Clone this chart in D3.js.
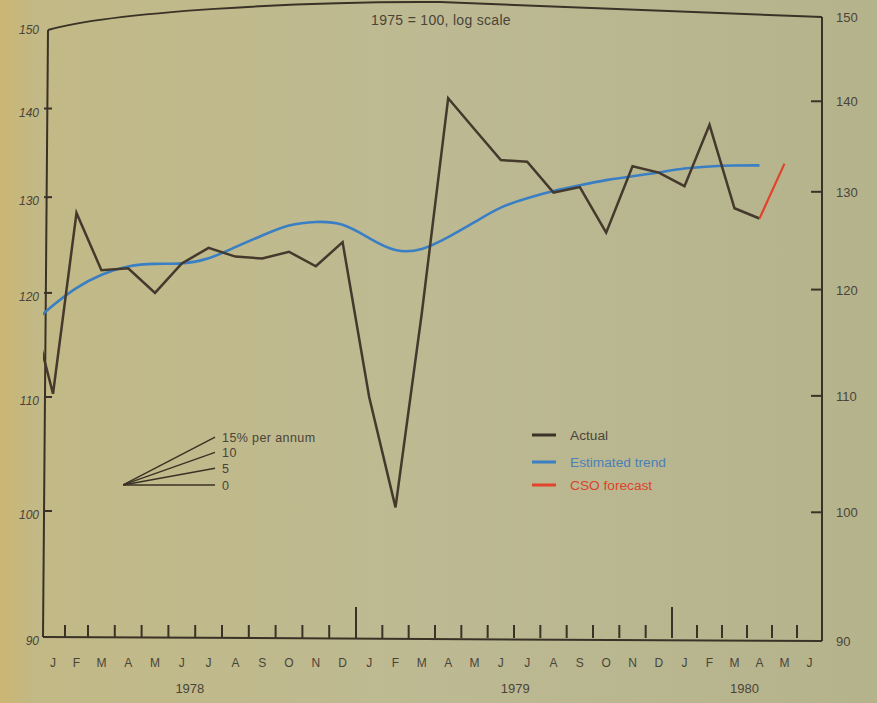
<!DOCTYPE html>
<html>
<head>
<meta charset="utf-8">
<script src="https://cdn.jsdelivr.net/npm/d3@7"></script>
<style>
body { margin: 0; background: #bcb992; }
svg { display: block; font-family: "Liberation Sans", Arial, sans-serif; }
</style>
</head>
<body>
<div id="chart"></div>
<script>
// monthly index, 1975=100, from Dec 1977 (first value is off the left edge)
var actualValues = [119.3, 110.3, 128.3, 122.3, 122.5, 120.0, 123.0, 124.6, 123.7, 123.5, 124.2, 122.7, 125.2,
  110.0, 100.3, 118.0, 141.2, 137.6, 134.1, 133.9, 130.5, 131.1, 126.2, 133.4, 132.7,
  131.2, 138.1, 128.8, 127.7]
var trendValues = [116.7, 118.8, 120.6, 121.9, 122.8, 123.0, 122.9, 123.4, 124.7, 125.9, 127.1, 127.4, 127.3,
  125.6, 124.1, 124.3, 125.7, 127.3, 129.0, 129.9, 130.7, 131.3, 131.9, 132.3, 132.7,
  133.2, 133.4, 133.5, 133.5]
var forecastValues = [127.7, 133.7]   // Apr 1980 -> May 1980
var firstMonth = -1        // Dec 1977
var forecastStart = 27     // Apr 1980

var monthLabels = ["J","F","M","A","M","J","J","A","S","O","N","D",
  "J","F","M","A","M","J","J","A","S","O","N","D",
  "J","F","M","A","M","J"]
var years = ["1978", "1979", "1980"]
var yearPos = [5.8, 18.05, 26.9]
var yTicks = [90, 100, 110, 120, 130, 140, 150]
var fanRates = [0, 5, 10, 15]
var fanLabels = ["0", "5", "10", "15% per annum"]

var width = 877
var height = 703
var ink = "#3a3226"

// month axis is slightly compressed at the start in the print
var x = d3.scaleLinear().domain([0, 1, 2, 12, 24, 30]).range([41, 65, 88, 356, 672, 822])
var y = d3.scaleLog().domain([90, 150]).range([637, 26])
var yR = d3.scaleLog().domain([90, 150]).range([641, 17])

var svg = d3.select("#chart").append("svg")
  .attr("width", width)
  .attr("height", height)

var defs = svg.append("defs")
var grad = defs.append("linearGradient").attr("id", "paper")
grad.append("stop").attr("offset", "0%").attr("stop-color", "#cbb672")
grad.append("stop").attr("offset", "4%").attr("stop-color", "#c2b986")
grad.append("stop").attr("offset", "50%").attr("stop-color", "#bdba93")
grad.append("stop").attr("offset", "100%").attr("stop-color", "#b5b38c")

svg.append("rect").attr("width", width).attr("height", height).attr("fill", "url(#paper)")

var left = 43
defs.append("clipPath").attr("id", "plot")
  .append("rect")
  .attr("x", left).attr("y", 0)
  .attr("width", x(30) - left).attr("height", y(90))

// frame: top edge is bowed in the print
svg.append("path")
  .attr("d", "M" + (left + 5) + "," + (y(150) + 4) + " C 110,12 300,1 440,2 L " + x(30) + "," + yR(150))
  .attr("fill", "none").attr("stroke", ink).attr("stroke-width", 2)

svg.append("line")
  .attr("x1", left + 5).attr("y1", y(150) + 4).attr("x2", left).attr("y2", y(90))
  .attr("stroke", ink).attr("stroke-width", 2)
svg.append("line")
  .attr("x1", x(30)).attr("y1", yR(150)).attr("x2", x(30)).attr("y2", yR(90))
  .attr("stroke", ink).attr("stroke-width", 2)
svg.append("line")
  .attr("x1", left).attr("y1", y(90)).attr("x2", x(30)).attr("y2", yR(90))
  .attr("stroke", ink).attr("stroke-width", 2)

// y ticks, both sides, pointing inward
var yt = yTicks.filter(function(d){ return d > 90 && d < 150 })
svg.selectAll(".ltick").data(yt).enter().append("line")
  .attr("x1", left + 1).attr("x2", left + 9)
  .attr("y1", function(d){ return y(d) }).attr("y2", function(d){ return y(d) })
  .attr("stroke", ink).attr("stroke-width", 2)
svg.selectAll(".rtick").data(yt).enter().append("line")
  .attr("x1", x(30) - 11).attr("x2", x(30))
  .attr("y1", function(d){ return yR(d) }).attr("y2", function(d){ return yR(d) })
  .attr("stroke", ink).attr("stroke-width", 2)

svg.selectAll(".llab").data(yTicks).enter().append("text")
  .attr("x", 39).attr("y", function(d){ return y(d) + 8 })
  .attr("text-anchor", "end")
  .attr("font-size", 12).attr("font-style", "italic")
  .attr("fill", "#4a4438")
  .text(function(d){ return d })
svg.selectAll(".rlab").data(yTicks).enter().append("text")
  .attr("x", 836).attr("y", function(d){ return yR(d) + 5 })
  .attr("font-size", 13)
  .attr("fill", "#4a4438")
  .text(function(d){ return d })

// month ticks
var mticks = d3.range(1, 30)
svg.selectAll(".mtick").data(mticks).enter().append("line")
  .attr("x1", function(d){ return x(d) }).attr("x2", function(d){ return x(d) })
  .attr("y1", y(90) + 1)
  .attr("y2", function(d){ return d % 12 == 0 ? y(90) - 30 : y(90) - 12 })
  .attr("stroke", ink).attr("stroke-width", 2)

svg.selectAll(".mlab").data(monthLabels).enter().append("text")
  .attr("x", function(d, i){ return x(i + 0.5) })
  .attr("y", 667)
  .attr("text-anchor", "middle")
  .attr("font-size", 12)
  .attr("fill", "#4a4438")
  .text(function(d){ return d })

svg.selectAll(".ylab").data(years).enter().append("text")
  .attr("x", function(d, i){ return x(yearPos[i]) })
  .attr("y", 693)
  .attr("text-anchor", "middle")
  .attr("font-size", 13)
  .attr("fill", "#4a4438")
  .text(function(d){ return d })

svg.append("text")
  .attr("x", 441).attr("y", 25)
  .attr("text-anchor", "middle")
  .attr("font-size", 14).attr("letter-spacing", 0.3)
  .attr("fill", "#4a4438")
  .text("1975 = 100, log scale")

// series
var plot = svg.append("g").attr("clip-path", "url(#plot)")

var trendLine = d3.line()
  .x(function(d, i){ return x(firstMonth + i + 0.5) })
  .y(function(d){ return y(d) })
  .curve(d3.curveBasis)

plot.append("path")
  .datum(trendValues)
  .attr("d", trendLine)
  .attr("fill", "none").attr("stroke", "#3a7fc4").attr("stroke-width", 2.6)

var actualLine = d3.line()
  .x(function(d, i){ return x(firstMonth + i + 0.5) })
  .y(function(d){ return y(d) })

plot.append("path")
  .datum(actualValues)
  .attr("d", actualLine)
  .attr("fill", "none").attr("stroke", "#44392c").attr("stroke-width", 2.5)

var fcLine = d3.line()
  .x(function(d, i){ return x(forecastStart + i + 0.5) })
  .y(function(d){ return y(d) })

plot.append("path")
  .datum(forecastValues)
  .attr("d", fcLine)
  .attr("fill", "none").attr("stroke", "#e2432c").attr("stroke-width", 2.2)

// growth-rate fan
var fanBase = 102.2
var fanFrom = 3.31
var fanSpan = 3.43
var fanEnd = function(d){ return y(fanBase * Math.pow(1 + d / 100, fanSpan / 12)) }
var fan = svg.append("g")
fan.selectAll("line").data(fanRates).enter().append("line")
  .attr("x1", x(fanFrom)).attr("y1", y(fanBase))
  .attr("x2", x(fanFrom + fanSpan))
  .attr("y2", fanEnd)
  .attr("stroke", "#3a3226").attr("stroke-width", 1.4)
fan.selectAll("text").data(fanRates).enter().append("text")
  .attr("x", x(fanFrom + fanSpan) + 7)
  .attr("y", function(d){ return fanEnd(d) + 5 })
  .attr("font-size", 12.5).attr("letter-spacing", 0.4)
  .attr("fill", "#4a4438")
  .text(function(d, i){ return fanLabels[i] })

// legend
var legendItems = ["Actual", "Estimated trend", "CSO forecast"]
var legendColors = ["#3a3226", "#3a7fc4", "#e2432c"]
var legendText = ["#4a4438", "#4a7fb8", "#d9442b"]
var legendY = [0, 27, 50]
var lg = svg.append("g").attr("transform", "translate(532,435)")
lg.selectAll("line").data(legendItems).enter().append("line")
  .attr("x1", 0).attr("x2", 24)
  .attr("y1", function(d, i){ return legendY[i] }).attr("y2", function(d, i){ return legendY[i] })
  .attr("stroke", function(d, i){ return legendColors[i] }).attr("stroke-width", 3)
lg.selectAll("text").data(legendItems).enter().append("text")
  .attr("x", 38).attr("y", function(d, i){ return legendY[i] + 5 })
  .attr("font-size", 13.7)
  .attr("fill", function(d, i){ return legendText[i] })
  .text(function(d){ return d })
</script>
</body>
</html>
